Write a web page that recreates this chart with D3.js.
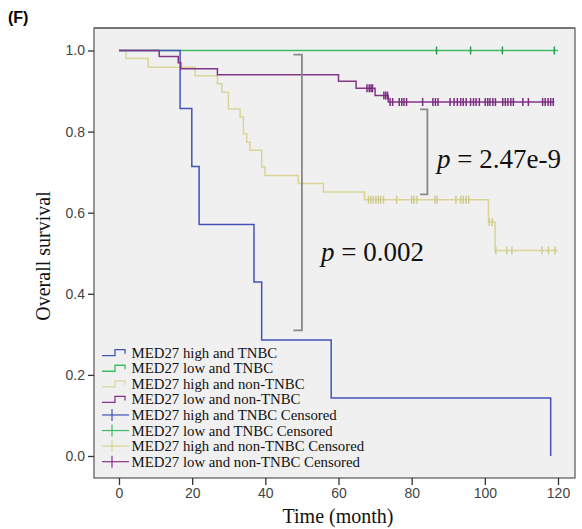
<!DOCTYPE html>
<html><head><meta charset="utf-8">
<script src="https://cdn.jsdelivr.net/npm/d3@7"></script>
<style>body{margin:0;background:#fff}</style>
</head><body><svg id="c" width="582" height="529"></svg>
<script>
// ---- data ----
const xTicks = [0, 20, 40, 60, 80, 100, 120];
const yTicks = [0, 0.2, 0.4, 0.6, 0.8, 1.0];
const legendLabels = [
  "MED27 high and TNBC", "MED27 low and TNBC", "MED27 high and non-TNBC", "MED27 low and non-TNBC",
  "MED27 high and TNBC Censored", "MED27 low and TNBC Censored",
  "MED27 high and non-TNBC Censored", "MED27 low and non-TNBC Censored"
];
// MED27 high and TNBC
const blueTimes = [0, 16.7, 19.9, 21.9, 36.9, 39.0, 58.0, 118.0];
const blueSurv  = [1, 0.857, 0.714, 0.571, 0.429, 0.286, 0.143, 0];
const blueEnd = 118.0;
const blueCensT = [];
const blueCensS = [];
// MED27 low and TNBC
const greenTimes = [0];
const greenSurv  = [1];
const greenEnd = 120;
const greenCensT = [86.8, 96.1, 104.8, 119.0];
const greenCensS = [1, 1, 1, 1];
// MED27 high and non-TNBC
const yellowTimes = [0, 1.9, 8.0, 20.8, 26.9, 28.1, 29.9, 33.1, 34.0, 34.9, 35.8, 39.0, 39.9, 49.0, 55.9, 67.1, 101.0, 102.8];
const yellowSurv  = [1, 0.980, 0.959, 0.938, 0.918, 0.897, 0.856, 0.836, 0.795, 0.774, 0.754, 0.713, 0.692, 0.672, 0.651, 0.632, 0.577, 0.507];
const yellowEnd = 120;
const yellowCensT = [68.2, 68.8, 69.5, 70.2, 70.9, 71.5, 72.3, 75.9, 80.0, 80.6, 81.4, 86.4, 87.0, 92.1, 93.4, 94.1, 94.9, 95.6,
  101.2, 102.0, 103.0, 106.0, 107.4, 115.6, 117.4, 119.2];
const yellowCensS = [0.632, 0.632, 0.632, 0.632, 0.632, 0.632, 0.632, 0.632, 0.632, 0.632, 0.632, 0.632, 0.632, 0.632, 0.632, 0.632, 0.632, 0.632,
  0.577, 0.577, 0.507, 0.507, 0.507, 0.507, 0.507, 0.507];
// MED27 low and non-TNBC
const purpleTimes = [0, 11.0, 16.2, 16.9, 26.9, 60.0, 64.8, 70.0, 73.6];
const purpleSurv  = [1, 0.985, 0.970, 0.955, 0.940, 0.924, 0.907, 0.889, 0.873];
const purpleEnd = 119.0;
const purpleCensT = [67.8, 68.4, 68.9, 69.3, 72.4, 72.9, 73.4,
  74.1, 74.8, 76.6, 77.3, 77.9, 78.6, 83.0, 85.8, 86.5, 87.2, 90.5, 91.6, 92.5, 93.4, 94.1, 94.9,
  96.1, 96.9, 97.6, 98.5, 100.1, 100.8, 101.4, 102.2, 102.9, 104.9, 105.6, 106.3, 107.1, 107.8,
  110.4, 111.9, 115.8, 116.5, 117.3, 118.0, 118.7];
const purpleCensS = purpleCensT.map(t => t < 70 ? 0.907 : (t < 73.6 ? 0.889 : 0.873));
// p-value annotations
const pLabels = ["= 2.47e-9", "= 0.002"];
const bracketMonths = [[82.3, 84.3], [47.7, 50.0]];
const bracketSurv = [[0.855, 0.645], [0.990, 0.310]];

// ---- layout ----
const svg = d3.select("#c");
const frame = {l: 94, t: 28, r: 575, b: 478};
const x = d3.scaleLinear().domain([0, 120]).range([119, 558]);
const y = d3.scaleLinear().domain([0, 1]).range([456, 50.5]);

svg.append("rect").attr("x", frame.l).attr("y", frame.t)
  .attr("width", frame.r - frame.l).attr("height", frame.b - frame.t)
  .attr("fill", "#f0f0f0").attr("stroke", "#555").attr("stroke-width", 1.2);
svg.append("line").attr("x1", frame.l).attr("x2", frame.r).attr("y1", frame.t).attr("y2", frame.t)
  .attr("stroke", "#777").attr("stroke-width", 2);

// axes
const yAxis = d3.axisLeft(y).tickValues(yTicks).tickFormat(d3.format(".1f")).tickSize(6).tickPadding(3);
const gy = svg.append("g").attr("transform", `translate(${frame.l},0)`).call(yAxis);
const xAxis = d3.axisBottom(x).tickValues(xTicks).tickFormat(d3.format("d")).tickSize(7).tickPadding(3);
const gx = svg.append("g").attr("transform", `translate(0,${frame.b})`).call(xAxis);
[gx, gy].forEach(g => {
  g.select(".domain").remove();
  g.selectAll(".tick line").attr("stroke", "#333").attr("stroke-width", 1.3);
  g.selectAll(".tick text").attr("fill", "#444").style("font-family", "Liberation Sans, Arial, sans-serif").style("font-size", "14px");
});

// axis titles
svg.append("text").attr("x", 338).attr("y", 523).attr("text-anchor", "middle")
  .style("font-family", "Liberation Serif, Times New Roman, serif").style("font-size", "20px").attr("fill", "#111")
  .text("Time (month)");
svg.append("text").attr("transform", "translate(50,256) rotate(-90)").attr("text-anchor", "middle")
  .style("font-family", "Liberation Serif, Times New Roman, serif").style("font-size", "20px").attr("fill", "#111")
  .text("Overall survival");
svg.append("text").attr("x", 8).attr("y", 23)
  .style("font-family", "Liberation Sans, Arial, sans-serif").style("font-size", "16px").style("font-weight", "bold")
  .text("(F)");

// curves
const colors = {blue: "#4353b8", green: "#3dbb62", yellow: "#d8d596", purple: "#84358a"};
const censColors = {blue: "#4353b8", green: "#2e9a50", yellow: "#d0cc8c", purple: "#7a2a80"};
const series = [
  {key: "yellow", t: yellowTimes, s: yellowSurv, end: yellowEnd, ct: yellowCensT, cs: yellowCensS},
  {key: "green", t: greenTimes, s: greenSurv, end: greenEnd, ct: greenCensT, cs: greenCensS},
  {key: "blue", t: blueTimes, s: blueSurv, end: blueEnd, ct: blueCensT, cs: blueCensS},
  {key: "purple", t: purpleTimes, s: purpleSurv, end: purpleEnd, ct: purpleCensT, cs: purpleCensS}
];
const line = d3.line().x(d => x(d[0])).y(d => y(d[1])).curve(d3.curveStepAfter);
series.forEach(se => {
  const pts = se.t.map((t, i) => [t, se.s[i]]);
  if (se.end > se.t[se.t.length - 1]) pts.push([se.end, se.s[se.s.length - 1]]);
  svg.append("path").datum(pts).attr("d", line).attr("fill", "none")
    .attr("stroke", colors[se.key]).attr("stroke-width", 1.5);
});
series.forEach(se => {
  svg.append("g").selectAll("line").data(se.ct.map((t, i) => [t, se.cs[i]])).join("line")
    .attr("x1", d => x(d[0])).attr("x2", d => x(d[0]))
    .attr("y1", d => y(d[1]) - 4).attr("y2", d => y(d[1]) + 4)
    .attr("stroke", censColors[se.key]).attr("stroke-width", 1.5);
});

// brackets
bracketMonths.forEach((bm, i) => {
  const bs = bracketSurv[i];
  svg.append("path")
    .attr("d", `M${x(bm[0])},${y(bs[0])}H${x(bm[1])}V${y(bs[1])}H${x(bm[0])}`)
    .attr("fill", "none").attr("stroke", "#888").attr("stroke-width", 1.8);
});
const pPos = [[437, 168], [321, 261]];
pLabels.forEach((lab, i) => {
  const t = svg.append("text").attr("x", pPos[i][0]).attr("y", pPos[i][1])
    .style("font-family", "Liberation Serif, Times New Roman, serif").style("font-size", "27px").attr("fill", "#111");
  t.append("tspan").style("font-style", "italic").text("p");
  t.append("tspan").text(" " + lab);
});

// legend
const legKeys = ["blue", "green", "yellow", "purple", "blue", "green", "yellow", "purple"];
const leg = svg.append("g").attr("transform", "translate(102,352.7)");
legendLabels.forEach((lab, i) => {
  const gy0 = i * 15.57;
  const g = leg.append("g").attr("transform", `translate(0,${gy0})`);
  if (i < 4) {
    g.append("path").attr("d", "M0,3H13V-3H23V1").attr("fill", "none")
      .attr("stroke", colors[legKeys[i]]).attr("stroke-width", 1.3);
  } else {
    g.append("line").attr("x1", 0).attr("x2", 27).attr("y1", 0).attr("y2", 0)
      .attr("stroke", colors[legKeys[i]]).attr("stroke-width", 1.2);
    g.append("line").attr("x1", 10).attr("x2", 10).attr("y1", -6).attr("y2", 6)
      .attr("stroke", colors[legKeys[i]]).attr("stroke-width", 1.2);
  }
  g.append("text").attr("x", 29.5).attr("y", 5)
    .style("font-family", "Liberation Serif, Times New Roman, serif").style("font-size", "14.8px").attr("fill", "#111")
    .text(lab);
});
</script></body></html>
